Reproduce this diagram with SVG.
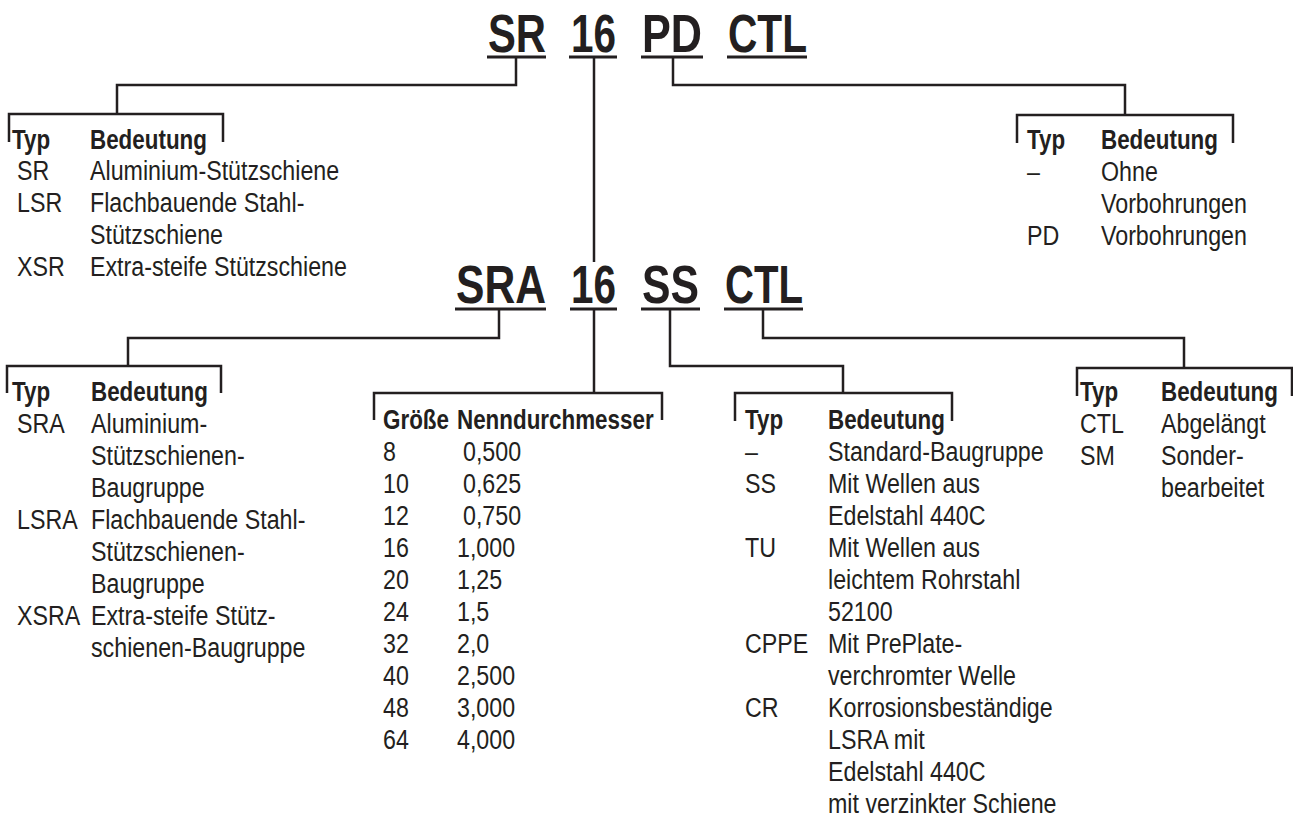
<svg xmlns="http://www.w3.org/2000/svg" width="1293" height="818" viewBox="0 0 1293 818">
<style>
text{font-family:"Liberation Sans",Arial,sans-serif;font-size:28px;fill:#231f20}
.b{font-weight:bold}
.big{font-size:54px;font-weight:bold}
.ln{stroke:#231f20;stroke-width:2.5;fill:none}
.ul{stroke:#231f20;stroke-width:3;fill:none}
</style>
<rect width="1293" height="818" fill="#ffffff"/>
<g id="code-top">
<text class="big" x="488" y="52" textLength="58" lengthAdjust="spacingAndGlyphs">SR</text>
<text class="big" x="571" y="52" textLength="45" lengthAdjust="spacingAndGlyphs">16</text>
<text class="big" x="642" y="52" textLength="60" lengthAdjust="spacingAndGlyphs">PD</text>
<text class="big" x="728" y="52" textLength="79" lengthAdjust="spacingAndGlyphs">CTL</text>
<path class="ul" d="M487 57H546M569 57H617M641 57H703M727 57H807"/>
</g>
<g id="code-bottom">
<text class="big" x="456" y="303" textLength="90" lengthAdjust="spacingAndGlyphs">SRA</text>
<text class="big" x="571" y="303" textLength="45" lengthAdjust="spacingAndGlyphs">16</text>
<text class="big" x="642" y="303" textLength="57" lengthAdjust="spacingAndGlyphs">SS</text>
<text class="big" x="725" y="303" textLength="78" lengthAdjust="spacingAndGlyphs">CTL</text>
<path class="ul" d="M455 309H546M570 309H617M641 309H700M724 309H803"/>
</g>
<g id="connectors">
<path class="ln" d="M516 57V85H117V114"/>
<path class="ln" d="M9 142V114H223V142"/>
<path class="ln" d="M673 57V85H1125V115"/>
<path class="ln" d="M1017 143V115H1233V143"/>
<path class="ln" d="M594 57V262"/>
<path class="ln" d="M499 309V338H128V366"/>
<path class="ln" d="M7 393V366H221V393"/>
<path class="ln" d="M594 309V393"/>
<path class="ln" d="M374 420V393H662V420"/>
<path class="ln" d="M670 309V366H843V393"/>
<path class="ln" d="M735 421V393H952V421"/>
<path class="ln" d="M763 309V338H1184V368"/>
<path class="ln" d="M1077 396V368H1292V396"/>
</g>
<g id="table-sr">
<g transform="translate(12 0) scale(0.8 1)"><text class="b" y="149">Typ</text></g>
<g transform="translate(90 0) scale(0.8 1)"><text class="b" y="149">Bedeutung</text></g>
<g transform="translate(17 0) scale(0.83 1)">
<text y="180">SR</text><text y="212">LSR</text><text y="276">XSR</text>
</g>
<g transform="translate(90 0) scale(0.83 1)">
<text y="180">Aluminium-Stützschiene</text>
<text y="212">Flachbauende Stahl-</text>
<text y="244">Stützschiene</text>
<text y="276">Extra-steife Stützschiene</text>
</g>
</g>
<g id="table-pd">
<g transform="translate(1027 0) scale(0.8 1)"><text class="b" y="149">Typ</text></g>
<g transform="translate(1101 0) scale(0.8 1)"><text class="b" y="149">Bedeutung</text></g>
<g transform="translate(1027 0) scale(0.83 1)">
<text y="181">–</text><text y="245">PD</text>
</g>
<g transform="translate(1101 0) scale(0.83 1)">
<text y="181">Ohne</text>
<text y="213">Vorbohrungen</text>
<text y="245">Vorbohrungen</text>
</g>
</g>
<g id="table-sra">
<g transform="translate(12 0) scale(0.8 1)"><text class="b" y="401">Typ</text></g>
<g transform="translate(91 0) scale(0.8 1)"><text class="b" y="401">Bedeutung</text></g>
<g transform="translate(17 0) scale(0.83 1)">
<text y="433">SRA</text><text y="529">LSRA</text><text y="625">XSRA</text>
</g>
<g transform="translate(91 0) scale(0.83 1)">
<text y="433">Aluminium-</text>
<text y="465">Stützschienen-</text>
<text y="497">Baugruppe</text>
<text y="529">Flachbauende Stahl-</text>
<text y="561">Stützschienen-</text>
<text y="593">Baugruppe</text>
<text y="625">Extra-steife Stütz-</text>
<text y="657">schienen-Baugruppe</text>
</g>
</g>
<g id="table-size">
<g transform="translate(383 0) scale(0.8 1)"><text class="b" y="429">Größe</text></g>
<g transform="translate(457 0) scale(0.8 1)"><text class="b" y="429">Nenndurchmesser</text></g>
<g transform="translate(383 0) scale(0.83 1)">
<text y="461">8</text><text y="493">10</text><text y="525">12</text><text y="557">16</text><text y="589">20</text>
<text y="621">24</text><text y="653">32</text><text y="685">40</text><text y="717">48</text><text y="749">64</text>
</g>
<g transform="translate(463 0) scale(0.83 1)">
<text y="461">0,500</text><text y="493">0,625</text><text y="525">0,750</text>
</g>
<g transform="translate(457 0) scale(0.83 1)">
<text y="557">1,000</text><text y="589">1,25</text><text y="621">1,5</text><text y="653">2,0</text>
<text y="685">2,500</text><text y="717">3,000</text><text y="749">4,000</text>
</g>
</g>
<g id="table-ss">
<g transform="translate(745 0) scale(0.8 1)"><text class="b" y="429">Typ</text></g>
<g transform="translate(828 0) scale(0.8 1)"><text class="b" y="429">Bedeutung</text></g>
<g transform="translate(745 0) scale(0.83 1)">
<text y="461">–</text><text y="493">SS</text><text y="557">TU</text><text y="653">CPPE</text><text y="717">CR</text>
</g>
<g transform="translate(828 0) scale(0.83 1)">
<text y="461">Standard-Baugruppe</text>
<text y="493">Mit Wellen aus</text>
<text y="525">Edelstahl 440C</text>
<text y="557">Mit Wellen aus</text>
<text y="589">leichtem Rohrstahl</text>
<text y="621">52100</text>
<text y="653">Mit PrePlate-</text>
<text y="685">verchromter Welle</text>
<text y="717">Korrosionsbeständige</text>
<text y="749">LSRA mit</text>
<text y="781">Edelstahl 440C</text>
<text y="813">mit verzinkter Schiene</text>
</g>
</g>
<g id="table-ctl">
<g transform="translate(1080 0) scale(0.8 1)"><text class="b" y="401">Typ</text></g>
<g transform="translate(1161 0) scale(0.8 1)"><text class="b" y="401">Bedeutung</text></g>
<g transform="translate(1080 0) scale(0.83 1)">
<text y="433">CTL</text><text y="465">SM</text>
</g>
<g transform="translate(1161 0) scale(0.83 1)">
<text y="433">Abgelängt</text>
<text y="465">Sonder-</text>
<text y="497">bearbeitet</text>
</g>
</g>
</svg>
